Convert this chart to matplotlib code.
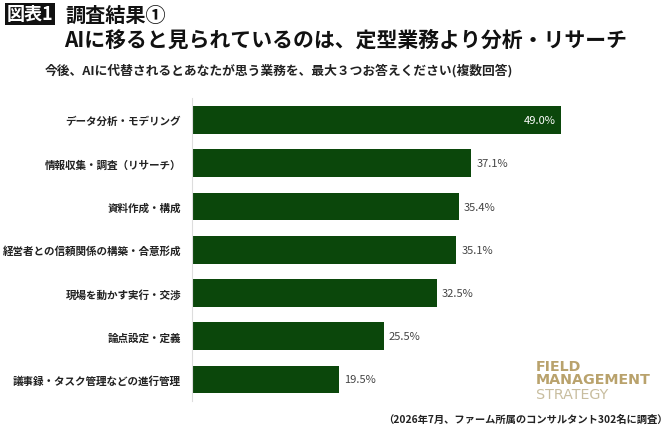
import matplotlib
matplotlib.use("Agg")
import matplotlib.pyplot as plt

plt.rcParams['font.family'] = ['Noto Sans CJK JP', 'DejaVu Sans']

categories = [
    "データ分析・モデリング",
    "情報収集・調査（リサーチ）",
    "資料作成・構成",
    "経営者との信頼関係の構築・合意形成",
    "現場を動かす実行・交渉",
    "論点設定・定義",
    "議事録・タスク管理などの進行管理",
]
values = [49.0, 37.1, 35.4, 35.1, 32.5, 25.5, 19.5]
value_labels = ["49.0%", "37.1%", "35.4%", "35.1%", "32.5%", "25.5%", "19.5%"]

W, H = 670, 435
fig = plt.figure(figsize=(W / 100, H / 100), dpi=100)
fig.patch.set_facecolor('white')

def fx(px):
    return px / W

def fy(py):
    return 1 - py / H

ax = fig.add_axes([fx(192), fy(402.1), fx(451.8), 302.7 / H])
bar_color = '#0b470b'
ypos = list(range(len(categories)))
ax.barh(ypos, values, height=0.64, color=bar_color)
ax.set_xlim(0, 60)
ax.set_ylim(len(categories) - 0.5, -0.5)
ax.set_yticks(ypos)
ax.set_yticklabels(categories, fontsize=7.6, fontweight='bold', color='#222222')
ax.tick_params(axis='y', length=0, pad=8)
ax.set_xticks([])
for s in ['top', 'right', 'bottom']:
    ax.spines[s].set_visible(False)
ax.spines['left'].set_color('#dddddd')
ax.spines['left'].set_linewidth(0.8)

for i, (v, lab) in enumerate(zip(values, value_labels)):
    if i == 0:
        ax.annotate(lab, (v, i), xytext=(-5, 0), textcoords='offset pixels',
                    ha='right', va='center', fontsize=8, color='white')
    else:
        ax.annotate(lab, (v, i), xytext=(5, 0), textcoords='offset pixels',
                    ha='left', va='center', fontsize=8, color='#444444')

# Title block
fig.text(fx(7), fy(15), "図表1", fontsize=13, fontweight='bold', color='white',
         ha='left', va='center',
         bbox=dict(boxstyle='square,pad=0.1', facecolor='#111111', edgecolor='none'))
fig.text(fx(65), fy(15), "調査結果①", fontsize=14.5, fontweight='bold', color='#111111',
         ha='left', va='center')
fig.text(fx(64), fy(40), "AIに移ると見られているのは、定型業務より分析・リサーチ",
         fontsize=15, fontweight='bold', color='#111111', ha='left', va='center')
fig.text(fx(45), fy(71), "今後、AIに代替されるとあなたが思う業務を、最大３つお答えください(複数回答)",
         fontsize=9.2, fontweight='bold', color='#222222', ha='left', va='center')

# Footnote
fig.text(fx(668), fy(420), "（2026年7月、ファーム所属のコンサルタント302名に調査）",
         fontsize=7.4, fontweight='bold', color='#222222', ha='right', va='center')

# Logo
gold = '#b9a26c'
t1 = fig.text(fx(536), fy(360), "FIELD\nMANAGEMENT", fontsize=10.3, fontweight='bold',
              color=gold, family='DejaVu Sans', ha='left', va='top', linespacing=0.95)
fig.canvas.draw()
bb = t1.get_window_extent(renderer=fig.canvas.get_renderer())
fig.text(fx(536), (bb.y0 - 0.5) / H, "STRATEGY", fontsize=10.3, color='#c8bd9f',
         family='DejaVu Sans', ha='left', va='top')

fig.savefig('out.png', dpi=100, facecolor='white')
